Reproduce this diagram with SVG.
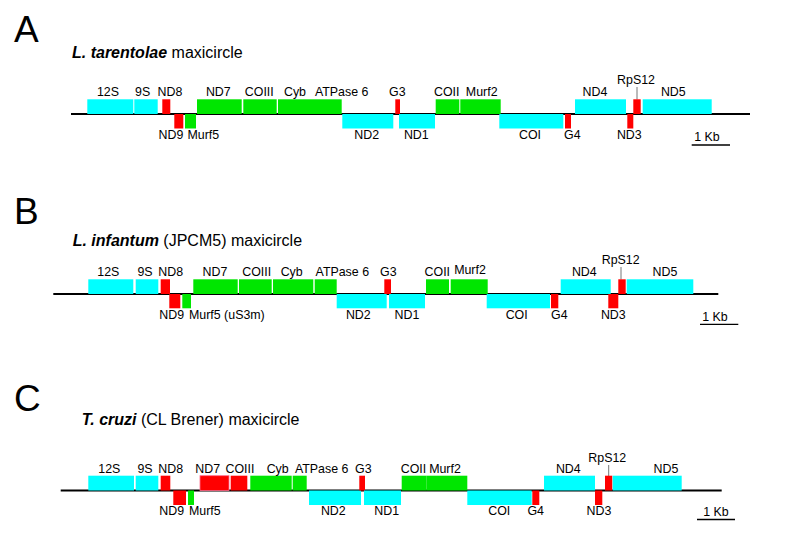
<svg xmlns="http://www.w3.org/2000/svg" width="789" height="537" viewBox="0 0 789 537">
<style>
text{font-family:"Liberation Sans",Arial,sans-serif;fill:#000}
.l{font-size:12.4px;text-anchor:middle}
.ls{font-size:12.4px}
.t{font-size:16px}
.big{font-size:37px}
.c{fill:#00ffff}
.g{fill:#00e600}
.r{fill:#ff0000}
.bb{stroke:#000;stroke-width:2;fill:none}
.ld{stroke:#777;stroke-width:1;fill:none}
.sb{stroke:#000;stroke-width:1.3;fill:none}
</style>
<rect width="789" height="537" fill="#fff"/>

<g id="connectors">
<line class="bb" x1="71" y1="114" x2="750" y2="114"/>
<line class="ld" x1="637" y1="87" x2="637" y2="99.5"/>
<line class="sb" x1="691.7" y1="145" x2="730" y2="145"/>
<line class="bb" x1="53.3" y1="294" x2="718.3" y2="294"/>
<line class="ld" x1="621" y1="267" x2="621" y2="279.5"/>
<line class="sb" x1="700" y1="324.3" x2="738.3" y2="324.3"/>
<line class="bb" x1="60.7" y1="490.5" x2="721.7" y2="490.5"/>
<line class="ld" x1="608.7" y1="465" x2="608.7" y2="476"/>
<line class="sb" x1="697" y1="519.5" x2="735" y2="519.5"/>
</g>

<!-- Panel A -->
<g id="panelA-title">
<text class="big" x="14" y="42">A</text>
<text class="t" x="72" y="58"><tspan font-weight="bold" font-style="italic">L. tarentolae</tspan> maxicircle</text>
</g>
<g id="A-12S"><rect class="c" x="87.3" y="99.3" width="46" height="14.7"/><text class="l" x="108" y="96">12S</text></g>
<g id="A-9S"><rect class="c" x="134.3" y="99.3" width="23.4" height="14.7"/><text class="l" x="142.7" y="96">9S</text></g>
<g id="A-ND8"><rect class="r" x="162.3" y="99.3" width="8" height="14.7"/><text class="l" x="170" y="96">ND8</text></g>
<g id="A-ND9"><rect class="r" x="174.3" y="114" width="9" height="14.5"/><text class="l" x="171" y="139">ND9</text></g>
<g id="A-Murf5"><rect class="g" x="185" y="114" width="11" height="14.5"/><text class="l" x="203.3" y="139">Murf5</text></g>
<g id="A-ND7"><rect class="g" x="197" y="99.3" width="44.7" height="14.7"/><text class="l" x="218.3" y="96">ND7</text></g>
<g id="A-COIII"><rect class="g" x="243.3" y="99.3" width="33.4" height="14.7"/><text class="l" x="259.3" y="96">COIII</text></g>
<g id="A-Cyb"><rect class="g" x="278" y="99.3" width="63.7" height="14.7"/><text class="l" x="295" y="96">Cyb</text></g>
<g id="A-ATPase6"><text class="l" x="341.7" y="96">ATPase 6</text></g>
<g id="A-ND2"><rect class="c" x="342.3" y="114" width="51" height="14.5"/><text class="l" x="366.7" y="139">ND2</text></g>
<g id="A-G3"><rect class="r" x="395.3" y="99.3" width="4.7" height="14.7"/><text class="l" x="397.3" y="96">G3</text></g>
<g id="A-ND1"><rect class="c" x="399" y="114" width="36" height="14.5"/><text class="l" x="416.3" y="139">ND1</text></g>
<g id="A-COII"><rect class="g" x="435.7" y="99.3" width="23.6" height="14.7"/><text class="l" x="446.7" y="96">COII</text></g>
<g id="A-Murf2"><rect class="g" x="460.3" y="99.3" width="40.4" height="14.7"/><text class="l" x="481.7" y="96">Murf2</text></g>
<g id="A-COI"><rect class="c" x="499.3" y="114" width="64" height="14.5"/><text class="l" x="530" y="139">COI</text></g>
<g id="A-G4"><rect class="r" x="565" y="114" width="6" height="14.5"/><text class="l" x="572.3" y="139">G4</text></g>
<g id="A-ND4"><rect class="c" x="575" y="99.3" width="51" height="14.7"/><text class="l" x="595" y="96">ND4</text></g>
<g id="A-ND3"><rect class="r" x="627.3" y="114" width="6" height="14.5"/><text class="l" x="629.3" y="139">ND3</text></g>
<g id="A-RpS12"><rect class="r" x="633.3" y="99.3" width="7.4" height="14.7"/><text class="l" x="636" y="84">RpS12</text></g>
<g id="A-ND5"><rect class="c" x="642.7" y="99.3" width="69" height="14.7"/><text class="l" x="673.3" y="96">ND5</text></g>
<g id="A-scale"><text class="l" x="707" y="141">1 Kb</text></g>

<!-- Panel B -->
<g id="panelB-title">
<text class="big" x="14" y="224">B</text>
<text class="t" x="72.7" y="246"><tspan font-weight="bold" font-style="italic">L. infantum</tspan> (JPCM5) maxicircle</text>
</g>
<g id="B-12S"><rect class="c" x="88.3" y="279.3" width="45" height="14.7"/><text class="l" x="108.3" y="275.5">12S</text></g>
<g id="B-9S"><rect class="c" x="135.7" y="279.3" width="22.6" height="14.7"/><text class="l" x="145" y="275.5">9S</text></g>
<g id="B-ND8"><rect class="r" x="160.7" y="279.3" width="9.3" height="14.7"/><text class="l" x="170.7" y="275.5">ND8</text></g>
<g id="B-ND9"><rect class="r" x="169.3" y="294" width="11" height="14.3"/><text class="l" x="171.7" y="319">ND9</text></g>
<g id="B-Murf5"><rect class="g" x="182.3" y="294" width="8.7" height="14.3"/><text class="ls" x="189" y="319">Murf5 (uS3m)</text></g>
<g id="B-ND7"><rect class="g" x="193.3" y="279.3" width="44.4" height="14.7"/><text class="l" x="215" y="275.5">ND7</text></g>
<g id="B-COIII"><rect class="g" x="239" y="279.3" width="32.7" height="14.7"/><text class="l" x="256.7" y="275.5">COIII</text></g>
<g id="B-Cyb"><rect class="g" x="273" y="279.3" width="40.3" height="14.7"/><text class="l" x="291.7" y="275.5">Cyb</text></g>
<g id="B-ATPase6"><rect class="g" x="314.7" y="279.3" width="22" height="14.7"/><text class="l" x="342.3" y="275.5">ATPase 6</text></g>
<g id="B-ND2"><rect class="c" x="336.7" y="294" width="50" height="14.3"/><text class="l" x="358.3" y="319">ND2</text></g>
<g id="B-G3"><rect class="r" x="384.3" y="279.3" width="6.7" height="14.7"/><text class="l" x="388.3" y="275.5">G3</text></g>
<g id="B-ND1"><rect class="c" x="389" y="294" width="36" height="14.3"/><text class="l" x="407" y="319">ND1</text></g>
<g id="B-COII"><rect class="g" x="426" y="279.3" width="23" height="14.7"/><text class="l" x="437.3" y="275.5">COII</text></g>
<g id="B-Murf2"><rect class="g" x="450.7" y="279.3" width="37" height="14.7"/><text class="l" x="470" y="274">Murf2</text></g>
<g id="B-COI"><rect class="c" x="486.7" y="294" width="63.3" height="14.3"/><text class="l" x="516.7" y="319">COI</text></g>
<g id="B-G4"><rect class="r" x="551" y="294" width="7.3" height="14.3"/><text class="l" x="559.3" y="319">G4</text></g>
<g id="B-ND4"><rect class="c" x="560.7" y="279.3" width="50" height="14.7"/><text class="l" x="584.3" y="275.5">ND4</text></g>
<g id="B-ND3"><rect class="r" x="608.3" y="294" width="10" height="14.3"/><text class="l" x="613.3" y="319">ND3</text></g>
<g id="B-RpS12"><rect class="r" x="618.3" y="279.3" width="7.4" height="14.7"/><text class="l" x="620.7" y="264.3">RpS12</text></g>
<g id="B-ND5"><rect class="c" x="626.7" y="279.3" width="66.6" height="14.7"/><text class="l" x="665" y="275.5">ND5</text></g>
<g id="B-scale"><text class="l" x="715" y="320.7">1 Kb</text></g>

<!-- Panel C -->
<g id="panelC-title">
<text class="big" x="14" y="411">C</text>
<text class="t" x="81.7" y="425"><tspan font-weight="bold" font-style="italic">T. cruzi</tspan> (CL Brener) maxicircle</text>
</g>
<g id="C-12S"><rect class="c" x="88.3" y="475.7" width="45.7" height="14.8"/><text class="l" x="109.3" y="472.7">12S</text></g>
<g id="C-9S"><rect class="c" x="135.7" y="475.7" width="22.6" height="14.8"/><text class="l" x="145" y="472.7">9S</text></g>
<g id="C-ND8"><rect class="r" x="160.7" y="475.7" width="9.6" height="14.8"/><text class="l" x="170.7" y="472.7">ND8</text></g>
<g id="C-ND9"><rect class="r" x="173.3" y="490.5" width="12.7" height="14.5"/><text class="l" x="171.7" y="515">ND9</text></g>
<g id="C-Murf5"><rect class="g" x="188" y="490.5" width="6" height="14.5"/><text class="ls" x="189" y="515">Murf5</text></g>
<g id="C-ND7"><rect class="r" x="200" y="475.7" width="29" height="14.8" stroke="#ff6f8f" stroke-width="0.8"/><text class="l" x="207.7" y="472.7">ND7</text></g>
<g id="C-COIII"><rect class="r" x="230.7" y="475.7" width="16.6" height="14.8"/><text class="l" x="240" y="472.7">COIII</text></g>
<g id="C-Cyb"><rect class="g" x="250.3" y="475.7" width="41.4" height="14.8"/><text class="l" x="277.7" y="472.7">Cyb</text></g>
<g id="C-ATPase6"><rect class="g" x="292.7" y="475.7" width="14" height="14.8"/><text class="l" x="321.7" y="472.7">ATPase 6</text></g>
<g id="C-ND2"><rect class="c" x="309" y="490.5" width="52" height="14.5"/><text class="l" x="333.3" y="515">ND2</text></g>
<g id="C-G3"><rect class="r" x="359.3" y="475.7" width="5.7" height="14.8"/><text class="l" x="363.3" y="472.7">G3</text></g>
<g id="C-ND1"><rect class="c" x="364" y="490.5" width="37" height="14.5"/><text class="l" x="386.7" y="515">ND1</text></g>
<g id="C-COII"><rect class="g" x="401.7" y="475.7" width="24.6" height="14.8"/><text class="l" x="413.5" y="472.7">COII</text></g>
<g id="C-Murf2"><rect class="g" x="426.3" y="475.7" width="41" height="14.8"/><text class="l" x="445" y="472.7">Murf2</text></g>
<g id="C-COI"><rect class="c" x="467.3" y="490.5" width="64.4" height="14.5"/><text class="l" x="499.3" y="515">COI</text></g>
<g id="C-G4"><rect class="r" x="532.3" y="490.5" width="7" height="14.5"/><text class="l" x="535.7" y="515">G4</text></g>
<g id="C-ND4"><rect class="c" x="544" y="475.7" width="51" height="14.8"/><text class="l" x="568.3" y="472.7">ND4</text></g>
<g id="C-ND3"><rect class="r" x="595" y="490.5" width="7.3" height="14.5"/><text class="l" x="599" y="515">ND3</text></g>
<g id="C-RpS12"><rect class="r" x="605" y="475.7" width="7.3" height="14.8"/><text class="l" x="607.3" y="461.7">RpS12</text></g>
<g id="C-ND5"><rect class="c" x="612.7" y="475.7" width="69" height="14.8"/><text class="l" x="666" y="472.7">ND5</text></g>
<g id="C-scale"><text class="l" x="716" y="515.5">1 Kb</text></g>
</svg>
